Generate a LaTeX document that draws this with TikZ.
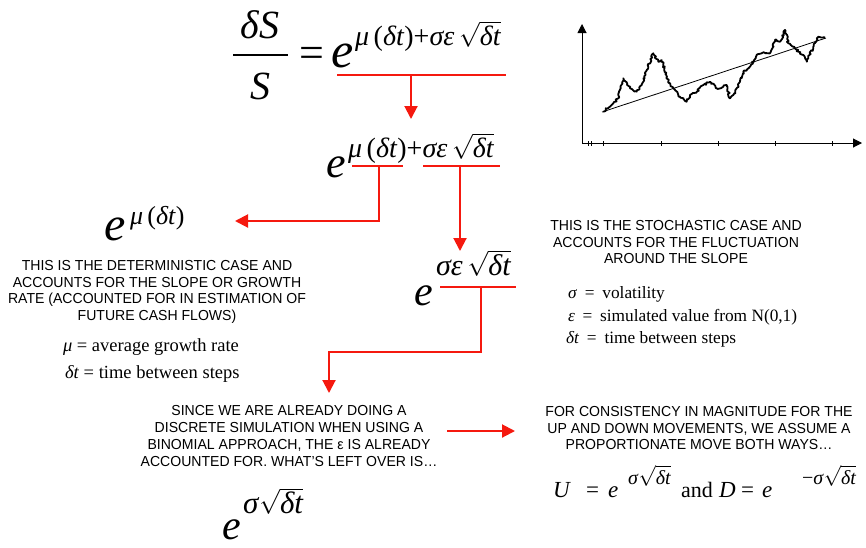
\documentclass[tikz,border=0pt]{standalone}
\usepackage{fontspec}
\setmainfont{Liberation Serif}
\newfontfamily\capsf[FakeStretch=0.97]{Liberation Sans}
\usetikzlibrary{arrows.meta,decorations.pathmorphing}
\definecolor{arrred}{RGB}{245,25,15}
\newcommand\rt[1]{\ensuremath{\sqrt{\mbox{#1}}}}
\newcommand\fs[1]{\fontsize{#1}{#1}\selectfont}
\begin{document}
\begin{tikzpicture}[x=1pt,y=-1pt,
  every node/.style={inner sep=0pt, outer sep=0pt},
  capstext/.style={font=\capsf\fontsize{14.5}{16.8}\selectfont, align=center},
  serif/.style={font=\fontsize{18.5}{22}\selectfont, anchor=base west},
  serifR/.style={font=\fontsize{17.3}{22}\selectfont, anchor=base west},
  mth/.style={anchor=base west},
  redline/.style={draw=arrred, line width=2pt},
  redarrow/.style={redline, -{Triangle[length=13pt,width=13pt]}},
  axis/.style={line width=1pt, -{Triangle[length=9pt,width=9pt]}},
]
\useasboundingbox (0,0) rectangle (866,547);

% ---------- top equation ----------
\node[anchor=base] (dS) at (260,38) {\fs{40}\itshape δS};
\node[anchor=base] (S) at (260,99) {\fs{40}\itshape S};
\draw[line width=1.4pt] (233,55) -- (288,55);
\node[mth] (eqA) at (299,67) {\fs{44}=};
\node[mth] (e1) at (331,67) {\fs{50}\itshape e};
\node[mth] (x1) at (355,45) {\fs{28}\textit{μ}\,(\textit{δt})+\textit{σε}\,\rt{\itshape δt}};
\coordinate (u1a) at (337,75); \coordinate (u1b) at (506,75);
\coordinate (u1m) at (411,75); \coordinate (t1) at (411,119);
\draw[redline] (u1a) -- (u1b);
\draw[redarrow] (u1m) -- (t1);

% ---------- second expression ----------
\node[mth] (e2) at (326,177) {\fs{44}\itshape e};
\node[mth] (x2) at (348,157) {\fs{28}\textit{μ}\,(\textit{δt})+\textit{σε}\,\rt{\itshape δt}};
\coordinate (u2a) at (352,166); \coordinate (u2b) at (403,166);
\coordinate (u3a) at (423,166); \coordinate (u3b) at (500,166);
\coordinate (u2m) at (379,166); \coordinate (u3m) at (460,166);
\draw[redline] (u2a) -- (u2b);
\draw[redline] (u3a) -- (u3b);

% ---------- deterministic part ----------
\node[mth] (e3) at (104,240) {\fs{48}\itshape e};
\node[mth] (x3) at (130,224) {\fs{26}\textit{μ}\,(\textit{δt})};
\coordinate (t2) at (235,221);
\draw[redarrow] (u2m) |- (t2);

\node[capstext] (detTxt) at (157,292) {THIS IS THE DETERMINISTIC CASE AND\\ACCOUNTS FOR THE SLOPE OR GROWTH\\RATE (ACCOUNTED FOR IN ESTIMATION OF\\FUTURE CASH FLOWS)};
\node[serif] (muDef) at (63,351) {\textit{μ} = average growth rate};
\node[serif] (dtDefA) at (65,378) {\textit{δt} = time between steps};

% ---------- stochastic part ----------
\coordinate (t3) at (460,251);
\draw[redarrow] (u3m) -- (t3);
\node[mth] (e4) at (414,305) {\fs{42}\itshape e};
\node[mth] (x4) at (436,275) {\fs{30}\textit{σε}\,\rt{\itshape δt}};
\coordinate (u4a) at (440,287); \coordinate (u4b) at (516,287);
\coordinate (u4m) at (481,287); \coordinate (t4) at (329,393);
\draw[redline] (u4a) -- (u4b);
\draw[redarrow] (u4m) |- ++(0,65) -| (t4);

\node[capstext] (stoTxt) at (676,242) {THIS IS THE STOCHASTIC CASE AND\\ACCOUNTS FOR THE FLUCTUATION\\AROUND THE SLOPE};
\node[serifR] (sgDef) at (568,298) {\textit{σ}\hspace{0.45em}=\hspace{0.45em}volatility};
\node[serifR] (epDef) at (568,321) {\textit{ε}\hspace{0.45em}=\hspace{0.45em}simulated value from N(0,1)};
\node[serifR] (dtDefB) at (566,343) {\textit{δt}\hspace{0.45em}=\hspace{0.45em}time between steps};

% ---------- binomial part ----------
\node[capstext] (binTxt) at (289,436) {SINCE WE ARE ALREADY DOING A\\DISCRETE SIMULATION WHEN USING A\\BINOMIAL APPROACH, THE ε IS ALREADY\\ACCOUNTED FOR. WHAT’S LEFT OVER IS…};
\node[mth, text depth=0pt] (e5) at (222,539) {\fs{42}\itshape e};
\node[mth] (x5) at (243,513) {\fs{31}\textit{σ}\rt{\itshape δt}};

\node[capstext] (udTxt) at (699,428) {FOR CONSISTENCY IN MAGNITUDE FOR THE\\UP AND DOWN MOVEMENTS, WE ASSUME A\\PROPORTIONATE MOVE BOTH WAYS…};
\coordinate (a5) at (447,431); \coordinate (a6) at (515,431);
\draw[redarrow] (a5) -- (a6);

\node[mth] (uU) at (553,497) {\fs{23}\textit{U}};
\node[mth] (uEq) at (586,497) {\fs{23}=};
\node[mth] (uE) at (608,497) {\fs{23}\textit{e}};
\node[mth] (uX) at (628,484) {\fs{20}\textit{σ}\rt{\itshape δt}};
\node[mth] (uAnd) at (681,497) {\fs{22}and};
\node[mth] (dD) at (719,497) {\fs{23}\textit{D}};
\node[mth] (dEq) at (741,497) {\fs{23}=};
\node[mth] (dE) at (762,497) {\fs{23}\textit{e}};
\node[mth] (dX) at (802,484) {\fs{20}−\textit{σ}\rt{\itshape δt}};

% ---------- chart ----------
\draw[axis] (582,143) -- (582,24);
\draw[axis] (582,143) -- (862,143);
\foreach \tx in {588,591,603,661,718,775,832}
  \draw[line width=0.8pt] (\tx,141) -- (\tx,146);
\draw[line width=0.8pt] (602,112) -- (826,38);
\draw[line width=1.8pt, line join=round,
  decorate, decoration={random steps, segment length=1.6pt, amplitude=1.1pt}]
  (603.3,111.7) -- (613.3,103.3) -- (618.3,98.3) -- (623.3,78.3) -- (630,88.3)
  -- (636.7,91.7) -- (641.7,85) -- (646.7,70) -- (653.3,53.3) -- (658.3,61.7)
  -- (661.7,60) -- (668.3,81.7) -- (673.3,88.3) -- (680,96.7) -- (686.7,101.7)
  -- (690,95) -- (696.7,91.7) -- (703.3,85) -- (710,81.7) -- (716.7,88.3)
  -- (723.3,86.7) -- (726.7,85) -- (730,98.3) -- (733.3,95) -- (740,81.7)
  -- (743.3,71.7) -- (750,66.7) -- (756.7,55) -- (761.7,53.3) -- (770,53.3)
  -- (775,40) -- (780,41.7) -- (785,30) -- (788.3,43.3) -- (793.3,46.7)
  -- (800,53.3) -- (803.3,55) -- (806.7,61.7) -- (808.3,58.3) -- (813.3,46.7)
  -- (818.3,36.7) -- (825,37.7);
\end{tikzpicture}
\end{document}
